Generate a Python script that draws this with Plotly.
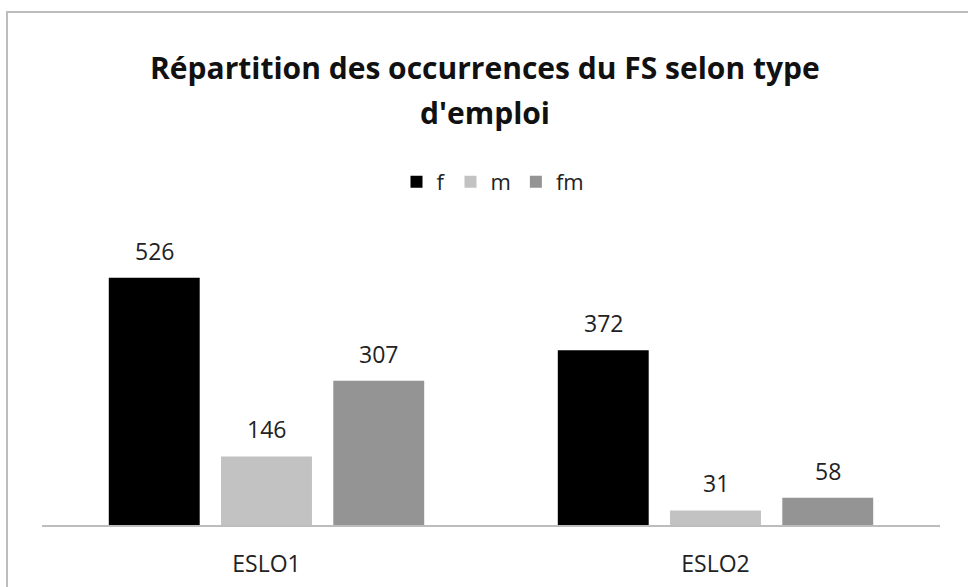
import plotly.graph_objects as go

categories = ["ESLO1", "ESLO2"]
series_names = ["f", "m", "fm"]
f_values = [526, 372]
m_values = [146, 31]
fm_values = [307, 58]

series_values = [f_values, m_values, fm_values]
colors = ["#000000", "#c2c2c2", "#949494"]

FONT = "Open Sans"
bargap = 0.25
bargroupgap = 0.19

W, H = 968, 587
# on-screen plot area: x 42..940, y 243..525
L = 42
R = W - 940
T = 243
B = H - 525
pw, ph = W - L - R, H - T - B

def py(screen_y):
    return (H - B - screen_y) / ph

def px(screen_x):
    return (screen_x - L) / pw

fig = go.Figure()
for name, vals, col in zip(series_names, series_values, colors):
    fig.add_trace(go.Bar(name=name, x=categories, y=vals, marker=dict(color=col, line=dict(width=0))))

# value labels above bars
n = len(series_names)
slot = (1 - bargap) / n
for k, vals in enumerate(series_values):
    off = (k - (n - 1) / 2) * slot
    for i, v in enumerate(vals):
        fig.add_annotation(x=i + off, y=v, xref="x", yref="y", text=str(v), showarrow=False,
                           yanchor="middle", yshift=27, font=dict(size=23, color="#222", family=FONT))

# title as two lines
fig.add_annotation(x=px(485), y=py(68), xref="paper", yref="paper", xanchor="center", yanchor="middle",
                   text="<b>Répartition des occurrences du FS selon type</b>",
                   showarrow=False, font=dict(size=30, color="#111", family=FONT))
fig.add_annotation(x=px(485), y=py(113), xref="paper", yref="paper", xanchor="center", yanchor="middle",
                   text="<b>d'emploi</b>",
                   showarrow=False, font=dict(size=30, color="#111", family=FONT))

fig.add_shape(type="rect", xref="paper", yref="paper",
              x0=px(7), x1=px(1010), y0=py(640), y1=py(12),
              line=dict(color="#bdbdbd", width=2), fillcolor="rgba(0,0,0,0)", layer="below")

fig.update_layout(
    width=W, height=H,
    margin=dict(l=L, r=R, t=T, b=B, autoexpand=False),
    barmode="group", bargap=bargap, bargroupgap=bargroupgap,
    paper_bgcolor="white", plot_bgcolor="white",
    font=dict(family=FONT, color="#222"),
    showlegend=True,
    legend=dict(orientation="h", x=px(493), xanchor="center", y=py(182), yanchor="middle",
                font=dict(size=22, color="#222", family=FONT), itemwidth=30, tracegroupgap=0),
    xaxis=dict(showline=True, linecolor="#bdbdbd", linewidth=2, ticks="", showgrid=False, automargin=False,
               tickfont=dict(size=23, color="#222", family=FONT), ticklabelstandoff=17),
    yaxis=dict(range=[0, 600], visible=False, showgrid=False, automargin=False),
)

fig.write_html("out.html", config={"displayModeBar": False},
               post_script="document.body.style.margin='0px';")
